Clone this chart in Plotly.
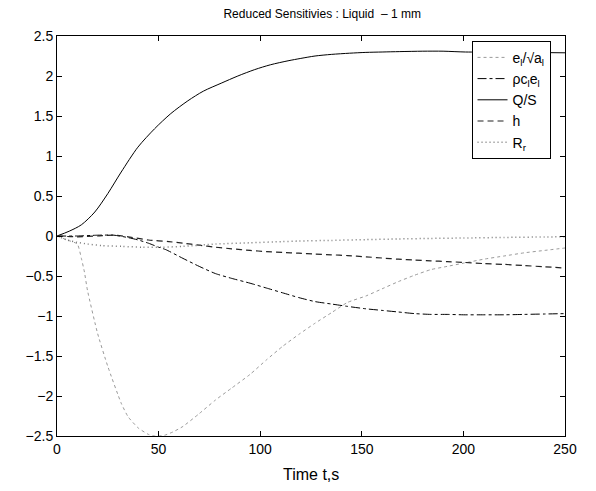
import plotly.graph_objects as go

# e_l / sqrt(a_l)
t_e = [0, 5, 10, 12, 13.5, 15, 20, 25, 31.6, 35, 40, 45, 48, 50, 53, 57, 62, 70, 78, 86, 95,
       103, 111, 119, 127, 135, 143, 152, 160, 168, 176, 184, 192, 200, 210, 220, 230, 240, 250]
y_e = [0, -0.05, -0.1, -0.28, -0.45, -0.68, -1.22, -1.63, -2.09, -2.26, -2.40, -2.48, -2.5, -2.5,
       -2.49, -2.45, -2.38, -2.22, -2.05, -1.9, -1.73, -1.55, -1.38, -1.23, -1.09, -0.96, -0.83,
       -0.75, -0.66, -0.57, -0.49, -0.42, -0.38, -0.34, -0.29, -0.25, -0.21, -0.18, -0.15]

# rho c_l e_l
t_r = [0, 10, 20, 28, 35, 40, 45, 50, 53.5, 62, 70, 78, 86, 95, 103, 111, 119, 127, 135, 143,
       152, 160, 168, 176, 184, 192, 200, 210, 220, 230, 240, 250]
y_r = [0, 0, 0.01, 0.01, -0.02, -0.05, -0.09, -0.14, -0.17, -0.28, -0.38, -0.47, -0.53, -0.59,
       -0.65, -0.71, -0.77, -0.82, -0.85, -0.88, -0.91, -0.93, -0.95, -0.97, -0.98, -0.98,
       -0.985, -0.985, -0.985, -0.98, -0.975, -0.97]

# Q/S
t_q = [0, 6, 12, 18.6, 25, 31.6, 39.8, 48, 56, 64.4, 72, 80.8, 89, 97.3, 105, 113.7, 120, 127,
       135, 144, 152, 160, 168.7, 180, 190, 201, 215, 230, 250]
y_q = [0, 0.06, 0.14, 0.30, 0.53, 0.80, 1.11, 1.34, 1.53, 1.69, 1.81, 1.91, 2.00, 2.08, 2.14,
       2.19, 2.22, 2.25, 2.27, 2.285, 2.295, 2.30, 2.305, 2.31, 2.31, 2.30, 2.30, 2.295, 2.29]

# h
t_h = [0, 10, 20, 28, 35, 45, 55, 62, 70, 78, 86, 95, 103, 111, 119, 127, 135, 143, 152, 160,
       168, 176, 184, 192, 200, 210, 220, 230, 240, 250]
y_h = [0, -0.01, 0.0, 0.01, -0.01, -0.05, -0.07, -0.09, -0.115, -0.14, -0.16, -0.18, -0.195,
       -0.205, -0.215, -0.225, -0.235, -0.245, -0.26, -0.275, -0.29, -0.30, -0.31, -0.32, -0.33,
       -0.345, -0.355, -0.37, -0.385, -0.40]

# R_r
t_R = [0, 5, 10, 15, 22, 32, 42, 52, 62, 78, 95, 111, 119, 135, 152, 168, 184, 200, 220, 240, 250]
y_R = [0, -0.05, -0.08, -0.10, -0.12, -0.13, -0.14, -0.14, -0.13, -0.10, -0.085, -0.07, -0.063,
       -0.055, -0.045, -0.037, -0.03, -0.025, -0.018, -0.012, -0.01]

names = ["e<sub>l</sub>/√a<sub>l</sub>", "ρc<sub>l</sub>e<sub>l</sub>", "Q/S", "h", "R<sub>r</sub>"]

x_ticks = [0, 50, 100, 150, 200, 250]
y_ticks = [-2.5, -2, -1.5, -1, -0.5, 0, 0.5, 1, 1.5, 2, 2.5]
y_ticktext = ["−2.5", "−2", "−1.5", "−1", "−0.5", "0", "0.5", "1", "1.5", "2", "2.5"]

font = "Liberation Sans, Arial, Helvetica, sans-serif"

fig = go.Figure()
fig.add_trace(go.Scatter(x=t_e, y=y_e, mode="lines", name=names[0], line_shape="spline",
                         line=dict(color="#9a9a9a", width=1, dash="dot", smoothing=0.5)))
fig.add_trace(go.Scatter(x=t_r, y=y_r, mode="lines", name=names[1], line_shape="spline",
                         line=dict(color="black", width=1, dash="dashdot", smoothing=0.6)))
fig.add_trace(go.Scatter(x=t_q, y=y_q, mode="lines", name=names[2], line_shape="spline",
                         line=dict(color="black", width=1, smoothing=0.8)))
fig.add_trace(go.Scatter(x=t_h, y=y_h, mode="lines", name=names[3], line_shape="spline",
                         line=dict(color="#222222", width=1.2, dash="6px,4px", smoothing=0.6)))
fig.add_trace(go.Scatter(x=t_R, y=y_R, mode="lines", name=names[4], line_shape="spline",
                         line=dict(color="#777777", width=1.5, dash="1px,3px", smoothing=0.6)))

axis_common = dict(showline=True, linecolor="black", linewidth=1, mirror="allticks",
                   ticks="inside", ticklen=5, tickcolor="black", showgrid=False,
                   zeroline=False, tickfont=dict(family=font, size=14, color="black"))

fig.update_layout(
    width=596, height=491,
    margin=dict(l=57, r=31, t=36, b=55),
    paper_bgcolor="white", plot_bgcolor="white",
    font=dict(family=font, color="black"),
    title=dict(text="Reduced Sensitivies : Liquid  – 1 mm", font=dict(size=12, family=font),
               x=0.522, xanchor="center", y=1 - 14 / 491, yanchor="middle", xref="paper"),
    xaxis=dict(range=[0, 250], tickvals=x_ticks, **axis_common),
    yaxis=dict(range=[-2.5, 2.5], tickvals=y_ticks, ticktext=y_ticktext, **axis_common),
    legend=dict(x=0.816, y=0.988, xanchor="left", yanchor="top", bgcolor="white",
                bordercolor="black", borderwidth=1, font=dict(size=14, family=font),
                itemwidth=30, tracegroupgap=0),
    annotations=[dict(text="Time t,s", xref="paper", yref="paper", x=0.5, y=-0.0975,
                      xanchor="center", yanchor="middle", showarrow=False,
                      font=dict(size=16, family=font))],
)

fig.write_html("out.html")
